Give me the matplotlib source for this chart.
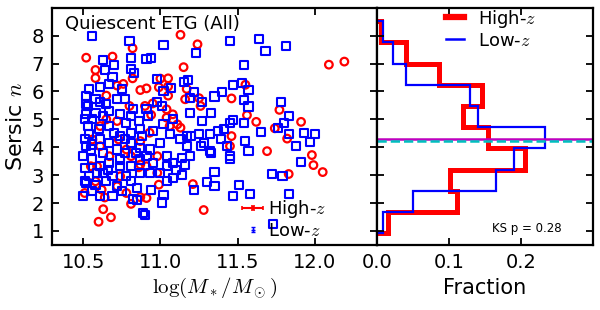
import numpy as np
import matplotlib.pyplot as plt
from matplotlib.lines import Line2D
from matplotlib.legend_handler import HandlerErrorbar

plt.rcParams['mathtext.fontset'] = 'cm'
plt.rcParams['font.family'] = ['DejaVu Sans']

# high-z quiescent ETGs: (log mass, sersic n)
high_mass = [10.52, 10.58, 10.58, 10.69, 10.82, 10.82, 11.13, 11.24, 11.05, 11.05,
             11.15, 11.17, 11.25, 11.46, 11.55, 11.56, 11.62, 11.77, 11.74, 11.82,
             11.91, 11.69, 11.98, 11.99, 12.05, 11.83, 12.09, 12.19, 11.28, 11.21,
             10.60, 10.68, 10.63, 10.51, 10.81, 10.87, 10.91, 10.64, 11.46, 11.45,
             10.99, 10.86, 10.87, 11.04, 11.11, 11.08, 11.04, 11.16, 11.26, 10.65,
             10.72, 10.87, 10.90, 10.95, 10.80, 10.94, 10.99, 10.91, 10.72, 10.76,
             10.65, 10.61, 10.56, 10.55, 10.58, 10.74, 10.72, 10.62, 10.78, 10.93,
             10.98, 11.06, 11.13, 10.73, 10.67, 10.78, 10.87, 10.81, 10.61, 10.59,
             10.91, 10.98, 11.05, 11.00]
high_n = [7.21, 6.77, 6.48, 7.25, 7.55, 6.47, 8.03, 7.69, 6.47, 6.18,
          6.87, 6.09, 5.76, 5.75, 6.24, 5.15, 4.91, 5.34, 4.68, 4.31,
          4.91, 3.86, 3.72, 3.36, 3.11, 3.04, 6.96, 7.07, 1.75, 2.68,
          1.33, 1.49, 1.78, 2.36, 1.97, 2.21, 2.18, 2.20, 4.40, 4.04,
          2.66, 3.28, 3.38, 5.06, 4.82, 5.18, 5.36, 5.72, 5.48, 5.00,
          4.94, 6.05, 5.48, 5.57, 5.48, 5.16, 6.15, 6.11, 6.21, 6.27,
          5.85, 4.04, 4.28, 3.32, 2.78, 2.96, 2.60, 2.48, 2.36, 4.52,
          3.68, 4.76, 4.70, 4.28, 3.68, 3.92, 4.22, 3.68, 4.76, 3.32,
          3.32, 3.08, 5.85, 6.46]

# low-z quiescent ETGs
low_mass = [10.56, 10.80, 11.02, 11.23, 11.45, 11.64, 11.68, 11.81, 11.54, 10.63,
            10.81, 10.91, 10.94, 10.70, 10.64, 10.69, 10.81, 10.83, 10.98, 11.15,
            11.18, 11.07, 11.02, 11.22, 11.19, 11.27, 11.35, 11.40, 11.47, 11.53,
            11.57, 11.54, 11.57, 11.78, 11.83, 11.80, 11.76, 11.83, 11.65, 11.55,
            11.57, 11.88, 11.93, 12.00, 11.97, 11.91, 11.72, 11.79, 11.83, 11.58,
            11.47, 11.51, 11.35, 11.35, 11.30, 11.22, 11.27, 11.33, 11.19, 11.37,
            11.41, 11.45, 11.47, 11.54, 11.45, 11.45, 11.43, 11.39, 11.32, 11.33,
            11.26, 11.25, 11.20, 11.17, 11.14, 11.16, 11.14, 11.08, 11.04, 11.02,
            11.01, 10.94, 10.89, 10.90, 10.85, 10.82, 10.85, 10.69, 10.75, 10.50,
            10.51, 10.50, 10.52, 10.52, 10.52, 10.54, 10.61, 10.67, 10.75, 10.72,
            10.65, 10.77, 10.82, 10.91, 10.98, 11.01, 10.92, 10.86, 10.78, 10.67,
            10.60, 10.54, 10.61, 10.67, 10.74, 10.81, 10.88, 10.95, 11.02, 11.08,
            11.06, 11.00, 10.93, 10.87, 10.81, 10.72, 10.63, 10.55, 10.52, 10.56,
            10.61, 10.67, 10.74, 10.81, 10.87, 10.95, 11.04, 11.08, 11.00, 10.93,
            10.87, 10.78, 10.69, 10.63, 10.54, 10.52, 10.58, 10.65, 10.72, 10.56,
            10.61, 10.53, 10.56, 10.58, 10.63, 10.61, 10.58, 10.67, 10.74, 10.81,
            10.87, 11.13, 11.17, 11.28, 11.32, 11.19, 11.10, 11.04, 10.91, 10.77,
            10.66, 10.59, 10.51, 10.51, 10.51, 10.53, 10.56, 10.70, 10.77, 10.84,
            10.74, 10.81, 11.73]
low_n = [8.00, 7.80, 7.68, 7.39, 7.80, 7.87, 7.45, 7.62, 6.95, 7.13,
         7.19, 7.15, 7.19, 6.95, 6.77, 6.51, 6.81, 6.65, 6.45, 6.33,
         6.41, 6.11, 6.03, 5.97, 5.75, 5.61, 5.82, 5.97, 6.24, 6.30,
         6.06, 5.70, 5.46, 5.61, 5.12, 4.88, 4.70, 4.46, 4.55, 4.22,
         3.86, 4.04, 4.52, 4.46, 4.19, 3.48, 3.05, 2.98, 2.33, 2.33,
         2.26, 2.66, 3.10, 2.60, 2.74, 2.48, 4.94, 5.24, 5.24, 4.58,
         4.64, 4.88, 4.98, 4.88, 3.58, 3.68, 4.04, 4.31, 3.86, 3.78,
         4.04, 4.46, 4.40, 4.04, 3.62, 3.38, 3.02, 2.90, 2.78, 2.30,
         2.02, 2.48, 1.63, 1.57, 2.54, 2.14, 2.12, 2.24, 2.42, 2.26,
         2.78, 3.68, 5.85, 5.55, 5.18, 6.09, 6.15, 6.27, 6.09, 5.73,
         5.55, 5.73, 5.37, 5.37, 5.61, 5.49, 5.12, 4.94, 4.88, 4.76,
         4.64, 4.46, 4.28, 4.16, 4.40, 4.52, 4.40, 4.58, 4.82, 5.00,
         4.46, 4.16, 3.92, 3.98, 4.16, 3.92, 3.80, 3.92, 4.04, 3.56,
         3.32, 3.44, 3.56, 3.32, 3.56, 3.44, 3.68, 3.44, 3.08, 3.08,
         3.08, 2.96, 2.96, 3.08, 2.96, 2.72, 2.66, 2.78, 2.60, 2.42,
         2.24, 4.76, 5.00, 5.24, 5.12, 5.61, 5.73, 5.30, 5.18, 5.12,
         4.64, 4.28, 4.40, 4.16, 4.46, 3.68, 3.20, 3.32, 3.68, 3.80,
         3.20, 3.08, 3.26, 4.28, 5.00, 5.49, 4.10, 4.52, 4.28, 3.80,
         3.32, 2.78, 1.25]

# histogram of sersic n (fraction per bin)
bin_edges = [0.92, 1.68, 2.44, 3.2, 3.96, 4.72, 5.48, 6.24, 7.0, 7.76, 8.52]
high_frac = [0.016, 0.111, 0.102, 0.206, 0.154, 0.120, 0.146, 0.086, 0.041, 0.006]
low_frac = [0.008, 0.050, 0.165, 0.190, 0.234, 0.140, 0.129, 0.041, 0.023, 0.009]
high_med = 4.31
low_med = 4.22
ks_p = 0.28


def style_axes(ax):
    for s in ax.spines.values():
        s.set_linewidth(1.6)
    ax.tick_params(direction='in', top=True, right=True, length=5, width=1.3,
                   labelsize=14, pad=6)


fig = plt.figure(figsize=(6, 3.1), dpi=100)
ax1 = fig.add_axes([0.087, 0.21, 0.541, 0.765])
ax2 = fig.add_axes([0.628, 0.21, 0.36, 0.765])

ax1.scatter(high_mass, high_n, s=30, facecolors='none', edgecolors='red',
            linewidths=1.6, marker='o', zorder=2)
ax1.scatter(low_mass, low_n, s=34, facecolors='none', edgecolors='blue',
            linewidths=1.5, marker='s', zorder=3)

# legend proxies in errorbar style
eh = ax1.errorbar([np.nan], [np.nan], xerr=[1], yerr=[1], fmt='none',
                  ecolor='red', capsize=1.6, elinewidth=1.5, capthick=1.2)
el = ax1.errorbar([np.nan], [np.nan], yerr=[1], fmt='+', color='blue',
                  ecolor='blue', capsize=1.4, markersize=3, elinewidth=1,
                  capthick=1)
ax1.legend([eh, el], ['High-$z$', 'Low-$z$'], loc='upper left', frameon=False,
           fontsize=13, handlelength=1.2, handletextpad=0.25, borderpad=0,
           borderaxespad=0, labelspacing=0.1, bbox_to_anchor=(0.585, 0.197),
           handler_map={eh: HandlerErrorbar(xerr_size=0.58, yerr_size=0.12),
                        el: HandlerErrorbar(xerr_size=0.1, yerr_size=0.15)})

ax1.text(0.04, 0.97, 'Quiescent ETG (All)', transform=ax1.transAxes,
         fontsize=13, va='top', ha='left')
ax1.set_xlim(10.3, 12.4)
ax1.set_ylim(0.5, 9.0)
ax1.set_xticks([10.5, 11.0, 11.5, 12.0])
ax1.set_yticks(range(1, 9))
ax1.set_xlabel(r'$\log(M_*/M_\odot)$', fontsize=15, labelpad=2)
ax1.set_ylabel(r'Sersic $n$', fontsize=16)
style_axes(ax1)

ax2.stairs(high_frac, bin_edges, orientation='horizontal', color='red',
           linewidth=3.6, baseline=0)
ax2.stairs(low_frac, bin_edges, orientation='horizontal', color='blue',
           linewidth=1.6, baseline=0)
ax2.axhline(high_med, color='m', linewidth=1.8)
ax2.axhline(low_med, color='c', linewidth=1.8, linestyle='--')
hl = [Line2D([], [], color='red', linewidth=4.5),
      Line2D([], [], color='blue', linewidth=1.8)]
ax2.legend(hl, ['High-$z$', 'Low-$z$'], loc='upper left', frameon=False,
           fontsize=13, handlelength=1.0, handletextpad=0.8, borderpad=0,
           borderaxespad=0, labelspacing=0.1, bbox_to_anchor=(0.32, 1.0))
ax2.text(0.855, 0.068, 'KS p = %.2f' % ks_p, transform=ax2.transAxes,
         fontsize=8.5, ha='right', va='center')
ax2.set_xlim(0, 0.3)
ax2.set_ylim(0.5, 9.0)
ax2.set_xticks([0.0, 0.1, 0.2])
ax2.set_yticks(range(1, 9))
ax2.set_yticklabels([])
ax2.set_xlabel('Fraction', fontsize=15)
style_axes(ax2)

fig.savefig('out.png', dpi=100)
